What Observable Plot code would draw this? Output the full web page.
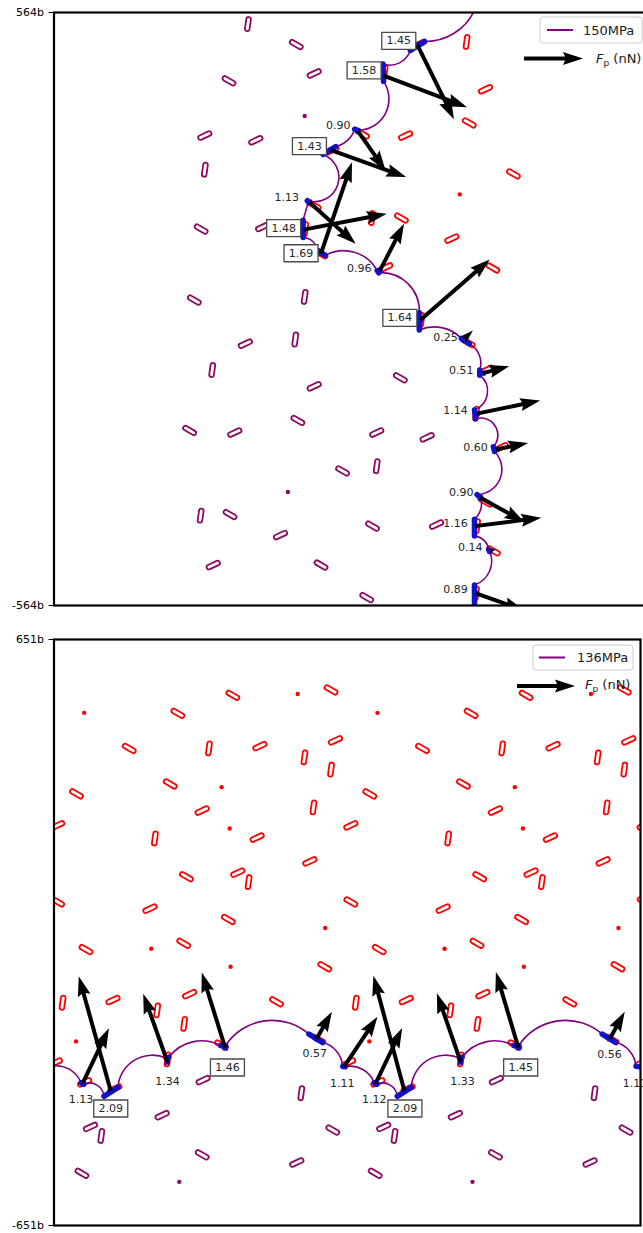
<!DOCTYPE html>
<html><head><meta charset="utf-8">
<script src="https://cdn.jsdelivr.net/npm/d3@7"></script>
<script src="https://cdn.jsdelivr.net/npm/@observablehq/plot@0.6"></script>
<style>
html,body{margin:0;padding:0;background:#fff;overflow:hidden;font-family:"DejaVu Sans",sans-serif;}
.panel{position:relative;}
.overlay{position:absolute;left:0;top:0;pointer-events:none;}
</style></head><body>
<div id="top" class="panel" style="height:622px"></div>
<div id="bot" class="panel" style="height:611px"></div>
<script>
// ---------------- TOP PANEL (150 MPa) ----------------
const topTicks = [-564, 564];
const topXMax = 1133;
// dislocation line nodes: where the line enters (xi,yi) and leaves (xo,yo) each pinning obstacle (units of b)
const topNodes = [
  {xi:800,yi:568,xo:800,yo:568},
  {xi:705,yi:509,xo:678,yo:492},
  {xi:626,yi:466,xo:627,yo:433},
  {xi:578,yi:340,xo:572,yo:342},
  {xi:536,yi:309,xo:512,yo:294},
  {xi:482,yi:206,xo:484,yo:204},
  {xi:474,yi:169,xo:474,yo:136},
  {xi:501,yi:112,xo:516,yo:102},
  {xi:615,yi:73,xo:618,yo:69},
  {xi:695,yi:-7,xo:695,yo:-40},
  {xi:775,yi:-56,xo:790,yo:-66},
  {xi:810,yi:-116,xo:810,yo:-126},
  {xi:800,yi:-192,xo:802,yo:-209},
  {xi:836,yi:-262,xo:838,yo:-271},
  {xi:805,yi:-353,xo:812,yo:-359},
  {xi:800,yi:-400,xo:800,yo:-432},
  {xi:827,yi:-458,xo:829,yo:-461},
  {xi:800,yi:-525,xo:800,yo:-560},
  {xi:800,yi:-580,xo:800,yo:-580}
];
// bow-out angle (deg) of each free segment between nodes
const topBends = [33,45,62,30,88,0,40,45,48,35,40,61,75,67,30,40,47,0];
// pinning forces: obstacle position -> arrow tip (b)
const topArrows = [
  {x1:691,y1:503,x2:761,y2:361},
  {x1:627,y1:444,x2:786,y2:384},
  {x1:578,y1:339,x2:631,y2:263},
  {x1:527,y1:302,x2:670,y2:251},
  {x1:486,y1:203,x2:574,y2:124},
  {x1:475,y1:151,x2:633,y2:181},
  {x1:508,y1:106,x2:567,y2:279},
  {x1:620,y1:73,x2:666,y2:162},
  {x1:697,y1:-21,x2:829,y2:94},
  {x1:779,y1:-58,x2:797,y2:-41},
  {x1:816,y1:-122,x2:866,y2:-109},
  {x1:805,y1:-199,x2:925,y2:-174},
  {x1:841,y1:-267,x2:902,y2:-255},
  {x1:811,y1:-359,x2:895,y2:-405},
  {x1:801,y1:-413,x2:927,y2:-397},
  {x1:829,y1:-460,x2:841,y2:-457},
  {x1:803,y1:-541,x2:894,y2:-573}
];
// force labels (nN) and their positions
const topLabels = [
  {f:1.45,x:656,y:510},{f:1.58,x:590,y:454},{f:0.90,x:541,y:349},{f:1.43,x:486,y:310},
  {f:1.13,x:443,y:212},{f:1.48,x:437,y:154},{f:1.69,x:470,y:106},{f:0.96,x:581,y:77},
  {f:1.64,x:658,y:-17},{f:0.25,x:745,y:-54},{f:0.51,x:775,y:-116},{f:1.14,x:764,y:-193},
  {f:0.60,x:802,y:-263},{f:0.90,x:775,y:-349},{f:1.16,x:764,y:-408},{f:0.14,x:792,y:-453},
  {f:0.89,x:764,y:-534}
];
// precipitates [x, y, orientation deg] (null = point-like) — already passed (behind) and ahead of the line
const topBehind = [
  [369,542,82],[461,503,-30],[333,434,-30],[495,448,25],[477,367,null],[287,330,25],[384,321,25],[287,265,82],
  [280,152,-30],[397,156,25],[267,17,-30],[477,23,82],[364,-66,25],[459,-58,82],[301,-116,82],[495,-147,25],
  [659,-131,-30],[258,-231,-30],[344,-235,25],[464,-212,-30],[614,-235,25],[710,-244,25],[549,-308,-30],[614,-299,82],
  [445,-348,null],[279,-393,82],[335,-391,-30],[431,-430,25],[606,-413,-30],[728,-410,25],[303,-487,25],[508,-487,-30],
  [595,-549,-30]
];
const topAhead = [
  [785,508,82],[821,418,25],[790,354,-30],[669,330,25],[874,257,-30],[772,218,null],[661,173,-30],[605,173,82],
  [757,134,25],[835,78,-30],
  [695,504,25],[629,450,82],[587,333,-30],[529,302,25],[495,197,-30],[478,152,82],[508,105,-30],[631,79,25],
  [699,-21,82],[788,-64,-30],[823,-116,25],[803,-199,82],[851,-263,25],[821,-367,-30],[805,-413,82],[836,-460,-30],
  [803,-541,82]
];

// ---------------- BOTTOM PANEL (136 MPa) ----------------
const botTicks = [-651, 651];
const botXMax = 1302;
const botNodes = [
  {xi:-6,yi:-297,xo:-6,yo:-297},
  {xi:60,yi:-334,xo:66,yo:-337},
  {xi:111,yi:-364,xo:142,yo:-344},
  {xi:249,yi:-279,xo:255,yo:-277},
  {xi:370,yi:-251,xo:381,yo:-251},
  {xi:566,yi:-226,xo:596,yo:-244},
  {xi:641,yi:-297,xo:647,yo:-298},
  {xi:711,yi:-334,xo:717,yo:-337},
  {xi:762,yi:-364,xo:793,yo:-344},
  {xi:900,yi:-279,xo:906,yo:-277},
  {xi:1021,yi:-251,xo:1032,yo:-251},
  {xi:1217,yi:-226,xo:1247,yo:-244},
  {xi:1292,yi:-297,xo:1298,yo:-298},
  {xi:1362,yi:-334,xo:1362,yo:-334}
];
const botBends = [40,54,55,40,49,35,40,54,55,40,49,35,40];
const botArrows = [
  {x1:64,y1:-334,x2:122,y2:-213},
  {x1:126,y1:-352,x2:55,y2:-97},
  {x1:252,y1:-288,x2:198,y2:-136},
  {x1:380,y1:-256,x2:328,y2:-89},
  {x1:583,y1:-236,x2:617,y2:-176},
  {x1:644,y1:-298,x2:718,y2:-187},
  {x1:714,y1:-335,x2:773,y2:-212},
  {x1:778,y1:-352,x2:709,y2:-96},
  {x1:903,y1:-288,x2:850,y2:-135},
  {x1:1031,y1:-256,x2:981,y2:-88},
  {x1:1234,y1:-236,x2:1267,y2:-176}
];
const botLabels = [
  {f:1.13,x:60,y:-371},{f:2.09,x:126,y:-391},{f:1.34,x:252,y:-331},{f:1.46,x:385,y:-300},
  {f:0.57,x:579,y:-269},{f:1.11,x:640,y:-335},{f:1.12,x:711,y:-372},{f:2.09,x:779,y:-391},
  {f:1.33,x:907,y:-330},{f:1.45,x:1036,y:-300},{f:0.56,x:1233,y:-271},{f:1.11,x:1290,y:-335}
];
const botBehind = [
  [331,-328,25],[549,-357,82],[240,-406,25],[81,-432,25],[105,-452,82],[329,-494,-30],[62,-535,-30],[278,-554,null],
  [539,-511,25],[619,-439,-30],
  [982,-328,25],[1200,-357,82],[891,-406,25],[732,-432,25],[756,-452,82],[980,-494,-30],[713,-535,-30],[929,-554,null],
  [1190,-511,25],[1270,-439,-30]
];
const botAhead = [
  [397,527,-30],[541,530,null],[615,539,-30],[67,488,null],[275,487,-30],[718,488,null],[926,487,-30],[1048,527,-30],
  [1192,530,null],[1266,539,-30],
  [167,409,-30],[344,409,82],[457,414,25],[556,389,82],[625,427,25],[615,362,82],
  [818,409,-30],[995,409,82],[1108,414,25],[1207,389,82],[1276,427,25],[1266,362,82],
  [50,308,-30],[258,330,-30],[372,323,null],[701,308,-30],[909,330,-30],[1023,323,null],
  [329,271,25],[576,278,82],[980,271,25],[1227,278,82],
  [8,238,25],[224,209,82],[390,231,null],[451,211,25],[659,238,25],[875,209,82],[1041,231,null],[1102,211,25],[1310,238,25],
  [568,158,25],[294,124,-30],[408,133,25],[432,112,82],[945,124,-30],[1059,133,25],[1083,112,82],[1219,158,25],
  [8,68,-30],[213,53,25],[387,29,-30],[659,68,-30],[602,10,null],[864,53,25],[1038,29,-30],[1253,10,null],[1310,68,-30],
  [71,-38,-30],[216,-36,null],[288,-24,-30],[392,-76,null],[601,-76,-30],[722,-38,-30],[867,-36,null],[939,-24,-30],
  [1043,-76,null],[1252,-76,-30],
  [19,-156,82],[131,-150,25],[229,-173,82],[301,-137,25],[494,-154,-30],[670,-156,82],[782,-150,25],[880,-173,82],
  [952,-137,25],[1145,-154,-30],
  [49,-242,null],[289,-203,82],[700,-242,null],[940,-203,82],
  [3,-289,25],[68,-333,25],[135,-347,25],[252,-282,82],[372,-250,-30],[588,-238,-30],[654,-289,25],
  [719,-333,25],[786,-347,25],[903,-282,82],[1023,-250,-30],[1239,-238,-30],[1305,-289,25]
];

// ---------------- styles & symbols ----------------
const RED = "#ff0000", PURP = "#8e0a62", LINE = "#800080", BLUE = "#1212c8";
const capsule = {draw(c){const a=4.8,r=2.3;c.moveTo(-a,-r);c.lineTo(a,-r);c.arc(a,0,r,-Math.PI/2,Math.PI/2);c.lineTo(-a,r);c.arc(-a,0,r,Math.PI/2,Math.PI*1.5);c.closePath();}};
const labelBox = {draw(c){c.rect(-17,-8.5,34,17);}};
const head = {draw(c,size){const s=Math.sqrt(size/Math.PI)/10;c.moveTo(0,0);c.lineTo(6.5*s,20*s);c.lineTo(2*s,18*s);c.lineTo(-2*s,18*s);c.lineTo(-6.5*s,20*s);c.closePath();}};

function precipMarks(list, color){
  return [
    Plot.dot(list.filter(d=>d[2]!=null), {x:d=>d[0], y:d=>d[1], symbol:capsule, rotate:d=>-d[2], stroke:color, strokeWidth:1.8, fill:"none", clip:true}),
    Plot.dot(list.filter(d=>d[2]==null), {x:d=>d[0], y:d=>d[1], r:2.2, fill:color, stroke:"none", clip:true})
  ];
}

function panel(cfg){
  const {nodes,bends,arrows,labels,behind,ahead,ticks,xMax,W,H,m} = cfg;
  const k = (H - m.top - m.bottom) / (ticks[1] - ticks[0]);
  const pxLen = d => Math.hypot(d.x2-d.x1, d.y2-d.y1) * k;
  const segs = bends.map((b,i)=>({x1:nodes[i].xo,y1:nodes[i].yo,x2:nodes[i+1].xi,y2:nodes[i+1].yi,bend:b}));
  const pins = nodes.slice(1,-1);
  return Plot.plot({
    width:W, height:H, marginTop:m.top, marginBottom:m.bottom, marginLeft:m.left, marginRight:m.right,
    style:{fontFamily:"DejaVu Sans, sans-serif", fontSize:"11px", maxWidth:"none", background:"transparent", overflow:"visible"},
    x:{domain:[0,xMax], axis:null},
    y:{domain:ticks},
    r:{type:"identity"},
    marks:[
      ...precipMarks(behind, PURP),
      ...precipMarks(ahead, RED),
      ...segs.map(s=>Plot.arrow([s],{x1:"x1",y1:"y1",x2:"x2",y2:"y2",bend:s.bend,headLength:0,stroke:LINE,strokeWidth:1.6,strokeLinecap:"butt",clip:true})),
      Plot.link(pins,{x1:"xi",y1:"yi",x2:"xo",y2:"yo",stroke:BLUE,strokeWidth:5.5,strokeLinecap:"round",clip:true}),
      Plot.dot(arrows,{x:"x1",y:"y1",symbol:"square",r:3,fill:BLUE,stroke:"none",clip:true}),
      Plot.arrow(arrows.filter(d=>pxLen(d)>=20),{x1:"x1",y1:"y1",x2:"x2",y2:"y2",headLength:0,insetEnd:17,stroke:"black",strokeWidth:4,strokeLinecap:"butt",clip:true}),
      Plot.dot(arrows,{x:"x2",y:"y2",symbol:head,rotate:d=>Math.atan2(d.x2-d.x1,d.y2-d.y1)*180/Math.PI,r:d=>10*Math.min(1,pxLen(d)/20),fill:"black",stroke:"none",clip:true}),
      Plot.dot(labels.filter(d=>d.f>=1.4),{x:"x",y:"y",symbol:labelBox,fill:"white",stroke:"#4a4a4a",strokeWidth:1.3}),
      Plot.text(labels,{x:"x",y:"y",text:d=>d.f.toFixed(2),fontSize:11,fill:"#262626"}),
      Plot.frame({stroke:"black",strokeWidth:2.2}),
      Plot.axisY({ticks:ticks, tickFormat:d=>d+"b", tickSize:5, tickPadding:5, fontSize:11, label:null})
    ]
  });
}

function legend(host, o){
  const svg = d3.create("svg").attr("class","overlay").attr("width",o.W).attr("height",o.H)
    .style("font-family","DejaVu Sans, sans-serif").style("font-size","13px");
  const [bx,by,bw,bh] = o.box;
  svg.append("rect").attr("x",bx).attr("y",by).attr("width",bw).attr("height",bh).attr("rx",3)
    .attr("fill","rgba(255,255,255,0.85)").attr("stroke","#cccccc");
  svg.append("line").attr("x1",o.line[0]).attr("x2",o.line[1]).attr("y1",o.line[2]).attr("y2",o.line[2])
    .attr("stroke",LINE).attr("stroke-width",2);
  svg.append("text").attr("x",o.text[0]).attr("y",o.text[1]).attr("dy","0.35em").attr("fill","#1a1a1a").text(o.label);
  const [a0,a1,ay] = o.arrow, L = a1-a0;
  svg.append("polygon").attr("fill","black")
    .attr("points",[[0,-2],[L-18,-2],[L-20,-6.5],[L,0],[L-20,6.5],[L-18,2],[0,2]].map(p=>[p[0]+a0,p[1]+ay].join(",")).join(" "));
  const t = svg.append("text").attr("x",o.ftext[0]).attr("y",o.ftext[1]).attr("dy","0.35em").attr("fill","#1a1a1a");
  t.append("tspan").attr("font-style","italic").text("F");
  t.append("tspan").attr("dy",3).attr("font-size","9px").text("p");
  t.append("tspan").attr("dy",-3).text(" (nN)");
  host.appendChild(svg.node());
}

const topHost = document.getElementById("top");
topHost.appendChild(panel({nodes:topNodes,bends:topBends,arrows:topArrows,labels:topLabels,behind:topBehind,ahead:topAhead,
  ticks:topTicks,xMax:topXMax,W:649,H:622,m:{top:12,bottom:17,left:53.5,right:0}}));
legend(topHost,{W:649,H:622,box:[540,17,102,26],line:[547,573,30],text:[583,30],label:"150MPa",arrow:[524,583,58.5],ftext:[596,58.5]});

const botHost = document.getElementById("bot");
botHost.appendChild(panel({nodes:botNodes,bends:botBends,arrows:botArrows,labels:botLabels,behind:botBehind,ahead:botAhead,
  ticks:botTicks,xMax:botXMax,W:643,H:611,m:{top:17,bottom:8,left:53.5,right:3}}));
legend(botHost,{W:643,H:611,box:[533,23,100,25],line:[539,565,35.5],text:[577,35.5],label:"136MPa",arrow:[517,575,64],ftext:[585,62]});
</script>
</body></html>
